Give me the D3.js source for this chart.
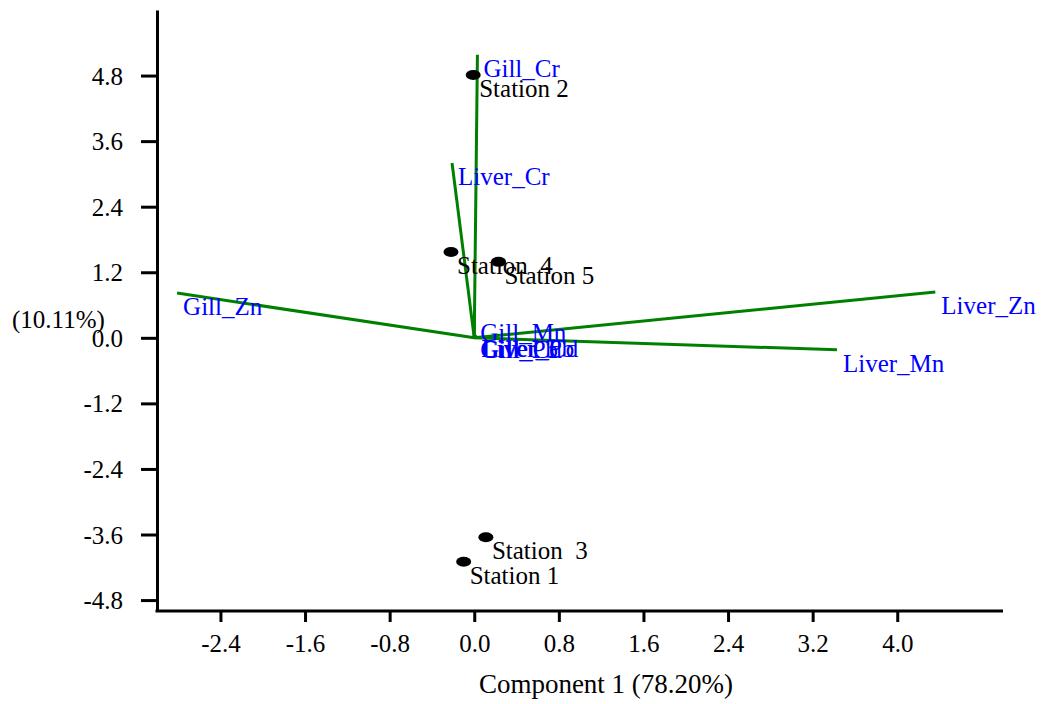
<!DOCTYPE html>
<html>
<head>
<meta charset="utf-8">
<script src="https://cdn.jsdelivr.net/npm/d3@7"></script>
<style>
  html, body { margin: 0; padding: 0; background: #fff; }
  svg { display: block; }
  text { font-family: "Liberation Serif", "Times New Roman", serif; font-size: 25px; white-space: pre; }
</style>
</head>
<body>
<svg id="chart" width="1049" height="704"></svg>
<script>
// PCA biplot: station scores (points) and metal loadings (vectors)
const stationNames = ["Station 2", "Station  4", "Station 5", "Station  3", "Station 1"];
const stationPC1 = [-0.01, -0.22, 0.23, 0.11, -0.10];
const stationPC2 = [4.81, 1.57, 1.39, -3.65, -4.10];

const variableNames = ["Gill_Cr", "Liver_Cr", "Gill_Zn", "Liver_Zn", "Liver_Mn", "Gill_Mn",
                       "Gill_Cd", "Liver_Cd", "Gill_Pb", "Liver_Pb"];
const variablePC1 = [0.03, -0.21, -2.81, 4.36, 3.43, 0.00, 0.01, 0.02, 0.00, 0.01];
const variablePC2 = [5.18, 3.20, 0.82, 0.84, -0.22, 0.35, 0.04, 0.05, 0.03, 0.06];

const xTicks = [-2.4, -1.6, -0.8, 0.0, 0.8, 1.6, 2.4, 3.2, 4.0];
const yTicks = [-4.8, -3.6, -2.4, -1.2, 0.0, 1.2, 2.4, 3.6, 4.8];
const xTitle = "Component 1 (78.20%)";
const yTitle = "(10.11%)";

const svg = d3.select("#chart");
const x = d3.scaleLinear().domain([-3, 5]).range([157, 1003]);
const y = d3.scaleLinear().domain([-5, 6]).range([611, 10]);
const fmt = v => v.toFixed(1);

// axes
const gx = svg.append("g").attr("transform", `translate(0,${y(-5)})`)
  .call(d3.axisBottom(x).tickValues(xTicks).tickFormat(fmt).tickSize(11).tickSizeOuter(0));
gx.select(".domain").attr("stroke", "#000").attr("stroke-width", 3)
  .attr("d", `M${x(-3) - 1.5},0H${x(5)}`);
gx.selectAll(".tick line").attr("stroke", "#000").attr("stroke-width", 3);
gx.selectAll(".tick text").attr("y", 41).attr("dy", 0).attr("fill", "#000")
  .style("font-size", "25px").style("font-family", "Liberation Serif");

const gy = svg.append("g").attr("transform", `translate(${x(-3)},0)`)
  .call(d3.axisLeft(y).tickValues(yTicks).tickFormat(fmt).tickSize(16).tickSizeOuter(0));
gy.select(".domain").attr("stroke", "#000").attr("stroke-width", 3);
gy.selectAll(".tick line").attr("stroke", "#000").attr("stroke-width", 3);
gy.selectAll(".tick text").attr("x", -34).attr("dy", "0.34em").attr("fill", "#000")
  .style("font-size", "25px").style("font-family", "Liberation Serif");

svg.append("text").attr("x", 606).attr("y", 693).attr("text-anchor", "middle")
  .style("font-size", "27px").text(xTitle);
svg.append("text").attr("x", 12).attr("y", 328).text(yTitle);

// loading vectors
const vars = variableNames.map((n, i) => ({ name: n, px: variablePC1[i], py: variablePC2[i] }));
svg.append("g").selectAll("line").data(vars).join("line")
  .attr("x1", x(0)).attr("y1", y(0))
  .attr("x2", d => x(d.px)).attr("y2", d => y(d.py))
  .attr("stroke", "#008000").attr("stroke-width", 3);

// station scores
const st = stationNames.map((n, i) => ({ name: n, px: stationPC1[i], py: stationPC2[i] }));
svg.append("g").selectAll("ellipse").data(st).join("ellipse")
  .attr("cx", d => x(d.px)).attr("cy", d => y(d.py))
  .attr("rx", 7.5).attr("ry", 5).attr("fill", "#000");

svg.append("g").selectAll("text").data(st).join("text")
  .attr("x", d => x(d.px) + 6).attr("y", d => y(d.py) + 22)
  .attr("fill", "#000").text(d => d.name);

svg.append("g").selectAll("text").data(vars).join("text")
  .attr("x", d => x(d.px) + 6).attr("y", d => y(d.py) + 22)
  .attr("fill", "#0000ff").text(d => d.name);
</script>
</body>
</html>
